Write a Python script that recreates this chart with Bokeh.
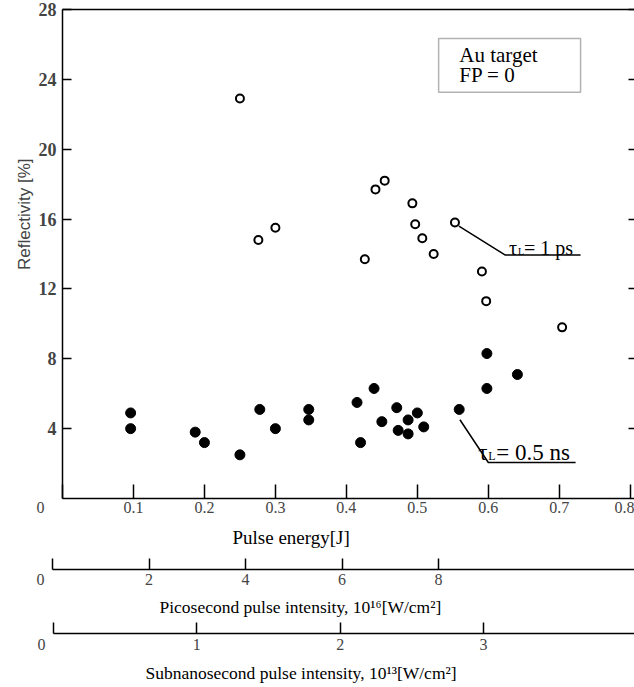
from bokeh.plotting import figure
from bokeh.models import Range1d, LinearAxis, FixedTicker, Title, Label, BoxAnnotation
from bokeh.layouts import column
from bokeh.embed import file_html
from bokeh.resources import INLINE

# ---- data ----
energy_1ps = [0.250, 0.276, 0.300, 0.426, 0.441, 0.454, 0.493, 0.497, 0.507, 0.523, 0.553, 0.591, 0.597, 0.704]
refl_1ps = [22.9, 14.8, 15.5, 13.7, 17.7, 18.2, 16.9, 15.7, 14.9, 14.0, 15.8, 13.0, 11.3, 9.8]

energy_05ns = [0.096, 0.096, 0.187, 0.200, 0.250, 0.278, 0.300, 0.347, 0.347, 0.415, 0.420, 0.439,
               0.450, 0.471, 0.473, 0.487, 0.487, 0.500, 0.509, 0.559, 0.598, 0.598, 0.641]
refl_05ns = [4.9, 4.0, 3.8, 3.2, 2.5, 5.1, 4.0, 5.1, 4.5, 5.5, 3.2, 6.3,
             4.4, 5.2, 3.9, 4.5, 3.7, 4.9, 4.1, 5.1, 8.3, 6.3, 7.1]

energy_ticks = [0, 0.1, 0.2, 0.3, 0.4, 0.5, 0.6, 0.7, 0.8]
refl_ticks = [4, 8, 12, 16, 20, 24, 28]
ps_ticks = [0, 2, 4, 6, 8]
ns_ticks = [0, 1, 2, 3]

# leader lines of the two series annotations
lead_ps_x = [0.5586, 0.624, 0.730]
lead_ps_y = [15.6, 13.94, 13.94]
lead_ns_x = [0.560, 0.600, 0.723]
lead_ns_y = [4.51, 2.06, 2.06]

SERIF = "Liberation Serif"
SANS = "Liberation Sans"
NB = "\u00a0"
W = 634


def no_align(f):
    if "frame_align" in f.properties():
        f.frame_align = False


def lab(fig, x, y, text, size, xo=0, yo=0, baseline="alphabetic", font=SERIF, align="left"):
    fig.add_layout(Label(x=x, y=y, x_offset=xo, y_offset=yo, text=text, text_font=font,
                         text_font_size=size, text_baseline=baseline, text_align=align,
                         text_color="black"))


def style_axis(ax, tick_in, standoff, size="16px"):
    ax.major_tick_in = tick_in
    ax.major_tick_out = 0
    ax.minor_tick_line_color = None
    ax.major_label_standoff = standoff
    ax.major_label_text_font = SERIF
    ax.major_label_text_font_size = size
    ax.axis_line_width = 1.5
    ax.major_tick_line_width = 1.5


# ---- main plot ----
p = figure(width=W, height=518, x_range=Range1d(0, 0.806), y_range=Range1d(0, 28),
           output_backend="svg", toolbar_location=None, x_axis_type=None, y_axis_type=None,
           min_border_left=62, min_border_right=0, min_border_top=9, min_border_bottom=0)
no_align(p)
p.outline_line_color = None

xa = LinearAxis(ticker=FixedTicker(ticks=energy_ticks), major_label_overrides={0: "0" + NB * 11})
style_axis(xa, 14, 0)
p.add_layout(xa, "below")

# top frame edge only (the right edge lies outside the picture)
ta = LinearAxis(ticker=FixedTicker(ticks=[]))
style_axis(ta, 0, 0)
ta.major_tick_line_color = None
p.add_layout(ta, "above")

ya = LinearAxis(ticker=FixedTicker(ticks=refl_ticks))
style_axis(ya, 9, 6, "18px")
ya.major_label_text_font_style = "bold"
p.add_layout(ya, "left")
p.add_layout(Title(text="Reflectivity [%]", align="right", offset=149, standoff=4,
                   text_font=SANS, text_font_size="17px", text_font_style="normal"), "left")

ra = LinearAxis(ticker=FixedTicker(ticks=refl_ticks),
                major_label_overrides={t: "" for t in refl_ticks})
style_axis(ra, 6, 0)
ra.axis_line_color = None
p.add_layout(ra, "right")

p.scatter(energy_05ns, refl_05ns, marker="circle", size=10, color="black")
p.scatter(energy_1ps, refl_1ps, marker="circle", size=8, fill_color="white",
          line_color="black", line_width=2)

p.line(lead_ps_x, lead_ps_y, line_color="black", line_width=1.5)
p.line(lead_ns_x, lead_ns_y, line_color="black", line_width=1.5)

lab(p, 0.629, 13.94, "τ", "20px", 0, 7)
lab(p, 0.629, 13.94, "L", "10px", 9, 4)
lab(p, 0.629, 13.94, "= 1 ps", "20px", 15, 7)

lab(p, 0.586, 2.06, "τ", "23px", 0, 10)
lab(p, 0.586, 2.06, "L", "12px", 10, 7)
lab(p, 0.586, 2.06, "= 0.5 ns", "23px", 18, 10)

p.add_layout(BoxAnnotation(left=0.53, right=0.73, top=26.34, bottom=23.26,
                           fill_color=None, line_color="black", line_width=1.5))
lab(p, 0.559, 25.37, "Au target", "21px", baseline="middle")
lab(p, 0.559, 24.23, "FP = 0", "21px", baseline="middle")


# ---- strips below: axis titles and the two intensity scales ----
def strip(height, border_left, rng_end, ticks, standoff, title, size, title_dx, title_dy):
    f = figure(width=W, height=height, x_range=Range1d(0, rng_end), y_range=Range1d(0, 1),
               output_backend="svg", toolbar_location=None, x_axis_type=None, y_axis_type=None,
               min_border_left=border_left, min_border_right=0, min_border_top=0,
               min_border_bottom=0)
    no_align(f)
    f.outline_line_color = None
    if ticks is not None:
        ax = LinearAxis(ticker=FixedTicker(ticks=ticks), major_label_overrides={0: "0" + NB * 6})
        style_axis(ax, 11, standoff)
        f.add_layout(ax, "below")
    lab(f, 0, 0, title, size, title_dx, title_dy, baseline="middle")
    return f


pb = strip(72, 52, 12.06, ps_ticks, 1, "Pulse energy[J]", "19px", 180, 32)
pc = strip(65, 53, 4.054, ns_ticks, 2, "Picosecond pulse intensity, 10¹⁶[W/cm²]", "17.5px", 106, 27)
pd = strip(32, 53, 4.054, None, 0, "Subnanosecond pulse intensity, 10¹³[W/cm²]", "17.5px", 92, 15)

layout = column(p, pb, pc, pd, spacing=0)
open("out.html", "w").write(file_html(layout, INLINE))
